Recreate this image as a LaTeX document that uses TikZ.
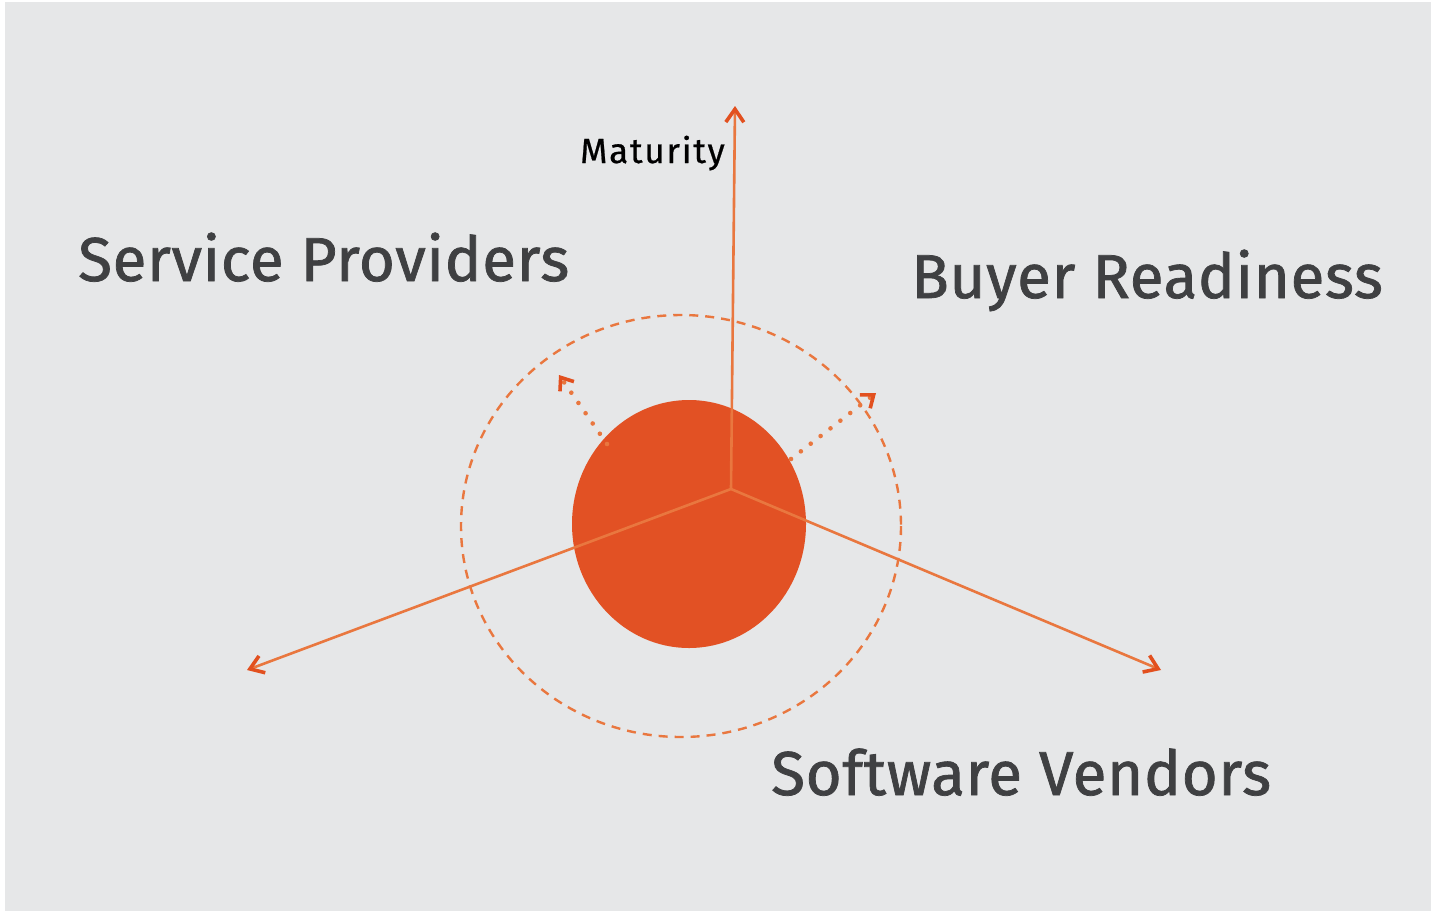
\documentclass[tikz,border=0pt]{standalone}
\usepackage{fontspec}
\setmainfont{Fira Sans}
\usetikzlibrary{arrows.meta,shapes.geometric}
\definecolor{bgray}{HTML}{E6E7E8}
\definecolor{axisline}{HTML}{E9773F}
\definecolor{tipred}{HTML}{E2501F}
\definecolor{blob}{HTML}{E25124}
\definecolor{labelgray}{HTML}{3F4042}
\tikzset{
  axis/.style={draw=axisline, line width=2.6pt,
    -{Straight Barb[length=13pt, width=18pt, line width=3.6pt, color=tipred]}},
  growth/.style={draw=axisline, line width=4.6pt, line cap=round,
    dash pattern=on 0pt off 12.5pt,
    -{Straight Barb[length=11pt, width=17pt, line width=3.6pt, color=tipred]}},
  biglabel/.style={anchor=base west, inner sep=0pt, text=labelgray,
    font=\fontsize{62}{62}\selectfont\addfontfeatures{LetterSpace=1,FakeBold=1.2}},
}
\begin{document}
\begin{tikzpicture}[x=1pt, y=-1pt]
  % page and panel
  \fill[white] (0,0) rectangle (1437,913);
  \fill[bgray] (5,2) rectangle (1431,911);
  \useasboundingbox (0,0) rectangle (1437,913);

  % core disc and its dashed reach
  \node[ellipse, fill=blob, minimum width=234pt, minimum height=248pt, inner sep=0pt] (core) at (689,524) {};
  \draw[axisline, line width=2.4pt, dash pattern=on 9pt off 7pt] (681,526) ellipse [x radius=220, y radius=211];
  \coordinate (reach) at (681,526);

  % axes from the common origin
  \coordinate (o) at (731,489);
  \coordinate (up) at (735,106);
  \coordinate (left) at (247,670);
  \coordinate (right) at (1161,670);
  \draw[axis] (o) -- (up);
  \draw[axis] (o) -- (left);
  \draw[axis] (o) -- (right);

  % outward growth arrows
  \coordinate (g1s) at (607,444);
  \coordinate (g1e) at (559,375);
  \coordinate (g2s) at (791,459);
  \coordinate (g2e) at (876,393);
  \draw[growth] (g1s) -- (g1e);
  \draw[growth] (g2s) -- (g2e);

  % labels
  \node[anchor=base west, inner sep=0pt, font=\fontsize{35}{35}\selectfont\addfontfeatures{LetterSpace=5,FakeBold=0.6}] (mat) at (580,163) {Maturity};
  \node[biglabel] (sp) at (78,281) {Service Providers};
  \node[biglabel] (br) at (911,298) {Buyer Readiness};
  \node[biglabel] (sv) at (771,795) {Software Vendors};
\end{tikzpicture}
\end{document}
